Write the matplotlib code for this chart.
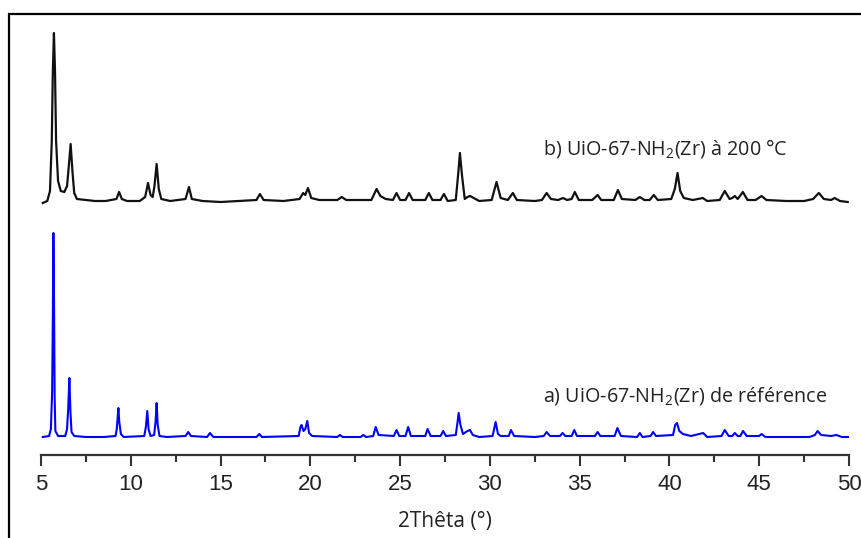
import numpy as np
import matplotlib.pyplot as plt
from matplotlib.patches import Rectangle

#Data (2Theta in degrees, intensity in a.u. above each baseline)
tt_b = [5.1, 5.35, 5.5, 5.6, 5.66, 5.72, 5.78, 5.84, 5.95, 6.1, 6.3, 6.45, 6.55, 6.65, 6.75, 6.85, 7.0, 7.5,
        8.0, 8.6, 9.2, 9.35, 9.5, 9.8, 10.5, 10.8, 10.96, 11.1, 11.22, 11.32, 11.44, 11.56, 11.7, 12.2,
        13.05, 13.24, 13.4, 14.0, 15.0, 16.0, 17.0, 17.19, 17.4, 18.5, 19.4, 19.6, 19.72, 19.87, 20.05,
        20.5, 21.5, 21.75, 22.0, 23.4, 23.69, 23.9, 24.2, 24.6, 24.8, 25.0, 25.3, 25.5, 25.7, 26.4, 26.6,
        26.8, 27.25, 27.44, 27.65, 28.1, 28.25, 28.33, 28.45, 28.6, 28.75, 28.9, 29.1, 29.4, 30.1, 30.37,
        30.6, 31.0, 31.28, 31.5, 32.5, 32.9, 33.16, 33.4, 33.8, 34.07, 34.3, 34.55, 34.73, 34.95, 35.7,
        36.0, 36.2, 36.9, 37.13, 37.35, 38.1, 38.35, 38.6, 38.9, 39.13, 39.35, 40.1, 40.3, 40.45, 40.6,
        40.8, 41.3, 41.86, 42.1, 42.8, 43.08, 43.35, 43.5, 43.64, 43.8, 44.09, 44.35, 44.8, 45.13, 45.4,
        46.5, 47.5, 48.0, 48.32, 48.6, 49.0, 49.2, 49.5, 49.93]
i_b = [-2, 0, 10, 60, 130, 168, 130, 60, 20, 10, 9, 15, 35, 57, 30, 8, 2, 1,
       0, 0, 2, 9, 2, 0, 0, 4, 18, 6, 4, 15, 37, 12, 2, 0,
       2, 14, 2, 0, -1, 0, 1, 7, 1, 0, 2, 8, 6, 13, 3,
       1, 1, 4, 1, 1, 12, 5, 2, 1, 8, 1, 1, 8, 1, 1, 8,
       1, 1, 7, 0, 1, 30, 48, 25, 2, 4, 5, 3, 0, 1, 19,
       3, 1, 8, 1, 0, 1, 8, 2, 1, 3, 1, 2, 9, 1, 1,
       6, 1, 1, 11, 2, 1, 4, 1, 1, 6, 1, 2, 12, 28, 10,
       3, 1, 3, 0, 1, 10, 2, 3, 5, 2, 9, 1, 1, 5, 1,
       0, 0, 2, 8, 2, 1, 3, 0, -1]

tt_a = [5.1, 5.45, 5.55, 5.62, 5.66, 5.69, 5.72, 5.76, 5.8, 5.95, 6.35, 6.45, 6.52, 6.58, 6.64, 6.7, 6.85,
        7.5, 8.5, 9.15, 9.22, 9.28, 9.31, 9.36, 9.45, 9.6, 10.75, 10.84, 10.92, 10.99, 11.1, 11.3, 11.38,
        11.44, 11.5, 11.6, 12.0, 13.05, 13.2, 13.35, 14.25, 14.41, 14.6, 15.5, 17.0, 17.16, 17.3, 19.35,
        19.45, 19.51, 19.62, 19.72, 19.83, 19.93, 20.1, 21.5, 21.65, 21.8, 22.8, 22.95, 23.1, 23.5, 23.64,
        23.8, 24.65, 24.8, 24.95, 25.3, 25.45, 25.6, 26.4, 26.53, 26.7, 27.25, 27.4, 27.55, 28.1, 28.2,
        28.26, 28.36, 28.5, 28.75, 28.89, 29.05, 29.4, 30.15, 30.26, 30.32, 30.45, 30.6, 31.05, 31.17,
        31.35, 32.5, 33.0, 33.16, 33.35, 33.9, 34.05, 34.2, 34.55, 34.7, 34.85, 35.85, 36.0, 36.15, 36.95,
        37.1, 37.3, 38.2, 38.35, 38.5, 38.95, 39.09, 39.25, 40.2, 40.32, 40.42, 40.55, 40.75, 41.2, 41.88,
        42.1, 42.9, 43.08, 43.3, 43.5, 43.64, 43.8, 43.95, 44.1, 44.3, 45.0, 45.13, 45.35, 46.5, 47.8,
        48.1, 48.25, 48.45, 49.0, 49.3, 49.6, 49.95]
i_a = [0, 1, 8, 45, 120, 204, 150, 40, 6, 1, 1, 8, 30, 59, 25, 5, 1,
       0, 0, 1, 8, 22, 29, 15, 3, 0, 1, 10, 26, 8, 1, 2, 15,
       34, 12, 1, 0, 1, 5, 1, 0, 4, 0, 0, 0, 3, 0, 1,
       10, 12, 6, 8, 16, 4, 1, 0, 2, 0, 0, 2, 0, 1, 10,
       2, 1, 7, 1, 1, 10, 1, 1, 8, 1, 1, 6, 1, 2, 15,
       24, 12, 3, 6, 7, 2, 0, 1, 10, 15, 3, 1, 1, 7,
       1, 0, 1, 5, 1, 1, 4, 1, 1, 7, 1, 1, 5, 1, 1,
       9, 1, 0, 4, 0, 1, 5, 1, 2, 12, 14, 6, 3, 1, 4,
       0, 1, 7, 1, 1, 4, 1, 1, 6, 1, 1, 3, 0, 0, 0,
       2, 6, 2, 1, 2, 0, 0]

labels = ['a) UiO-67-NH$_2$(Zr) de référence', 'b) UiO-67-NH$_2$(Zr) à 200 °C']
offset_a = 18
offset_b = 254

plt.rcParams['mathtext.fontset'] = 'custom'
plt.rcParams['mathtext.rm'] = 'Open Sans'

#Figure
fig = plt.figure(figsize=(8.62, 5.38), dpi=100)
ax = fig.add_axes([41/862, 83/538, 808/862, 441/538])

ax.plot(tt_b, np.array(i_b) + offset_b, color='#111111', lw=1.6)
ax.plot(tt_a, np.array(i_a) + offset_a, color='#0000ff', lw=1.5)

ax.text(32.95, 307, labels[1], fontsize=14.2, family='Open Sans', va='center', ha='left', color='#222222')
ax.text(32.95, 59, labels[0], fontsize=14.2, family='Open Sans', va='center', ha='left', color='#222222')

ax.set_xlim(5, 50)
ax.set_ylim(0, 441)
ax.set_xticks(np.arange(5, 51, 5))
ax.set_xticks(np.arange(7.5, 50, 5), minor=True)
ax.set_yticks([])
for s in ['left', 'right', 'top']:
    ax.spines[s].set_visible(False)
ax.spines['bottom'].set_color('#333333')
ax.spines['bottom'].set_linewidth(1.6)
ax.tick_params(axis='x', which='major', direction='out', length=8, width=1.5, color='#333333',
               labelsize=16, labelcolor='#222222', pad=6)
ax.tick_params(axis='x', which='minor', direction='out', length=5, width=1.5, color='#333333')
for lab in ax.get_xticklabels():
    lab.set_family('Liberation Sans')
ax.set_xlabel('2Thêta (°)', fontsize=15, family='Open Sans', color='#222222', labelpad=11)

#Frame around the picture
fig.patches.append(Rectangle((9/862, -0.1), 1.1, (538-14)/538 + 0.1, transform=fig.transFigure,
                             fill=False, lw=1.6, edgecolor='black'))

plt.savefig('out.png', dpi=100)
